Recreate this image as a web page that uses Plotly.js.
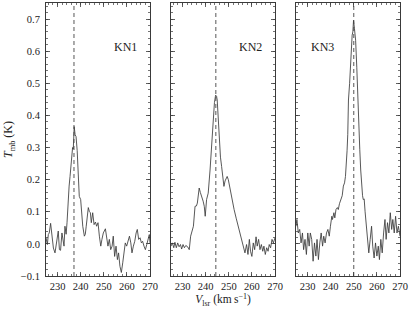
<!DOCTYPE html>
<html>
<head>
<meta charset="utf-8">
<script src="https://cdn.plot.ly/plotly-3.0.1.min.js"></script>
<style>html,body{margin:0;padding:0;background:#fff;}#chart{width:411px;height:310px;}</style>
</head>
<body>
<div id="chart"></div>
<script>
// Source names
const sourceNames = ["KN1", "KN2", "KN3"];
// Dashed-line central velocities (km/s)
const centerVelocities = [237.1, 244.4, 250.0];

// KN1 spectrum
const velKN1 = [225.0,225.6,226.0,226.4,227.0,227.6,228.2,228.9,229.6,230.3,230.8,231.3,231.9,232.4,232.8,233.2,233.7,234.1,234.6,235.0,235.4,235.8,236.1,236.5,236.8,237.2,237.6,238.0,238.5,239.0,239.4,240.0,240.5,240.9,241.6,242.0,242.4,242.9,243.3,243.8,244.2,244.6,245.2,245.8,246.4,246.9,247.5,248.1,248.7,249.2,249.8,250.7,251.3,251.8,252.4,253.0,253.6,254.1,254.7,255.3,255.9,256.4,257.0,257.6,258.2,258.8,259.3,259.9,260.5,261.1,261.7,262.2,262.8,263.4,264.0,264.5,265.1,265.7,266.3,266.8,267.4,268.0,268.6,269.2,269.7,270.0];
const tmbKN1 = [0.019,-0.002,0.029,0.034,0.064,0.014,-0.013,-0.028,0.014,0.040,-0.018,-0.020,0.034,0.010,-0.007,0.055,0.030,0.066,0.148,0.180,0.210,0.250,0.290,0.300,0.295,0.365,0.340,0.334,0.290,0.200,0.148,0.138,0.090,0.055,0.024,0.030,0.055,0.081,0.113,0.100,0.097,0.066,0.097,0.060,0.068,0.055,0.066,0.024,-0.007,0.014,0.034,0.047,0.024,-0.007,0.014,-0.018,-0.007,0.024,-0.039,-0.007,-0.049,-0.028,-0.070,-0.089,-0.059,-0.018,0.003,-0.007,0.014,0.024,0.003,-0.028,-0.007,0.008,0.034,0.045,0.014,0.019,0.003,0.008,-0.007,-0.018,-0.002,0.014,0.029,0.003];

// KN2 spectrum
const velKN2 = [225.0,225.6,226.2,226.7,227.3,227.9,228.5,229.1,229.6,230.2,230.8,231.4,232.2,232.9,233.5,234.1,234.7,235.4,236.0,236.4,237.2,237.7,238.3,238.9,239.4,239.8,240.4,241.1,241.9,242.6,243.3,243.8,244.3,244.7,245.0,245.4,245.9,246.4,246.9,247.4,247.9,248.4,248.8,249.3,249.8,250.3,250.8,251.5,252.3,253.2,254.1,254.9,255.6,256.2,257.0,257.7,258.3,258.9,259.4,260.0,260.6,261.2,261.8,262.3,262.9,263.5,264.1,264.7,265.2,265.8,266.4,267.0,267.5,268.1,268.7,269.3,270.0];
const tmbKN2 = [-0.007,0.003,-0.012,0.005,-0.012,0.003,-0.009,-0.002,-0.016,-0.002,-0.012,-0.005,-0.009,-0.018,0.024,0.045,0.055,0.117,0.118,0.127,0.174,0.160,0.148,0.133,0.117,0.086,0.138,0.158,0.230,0.303,0.407,0.440,0.463,0.460,0.448,0.400,0.303,0.270,0.241,0.210,0.179,0.196,0.205,0.210,0.200,0.180,0.158,0.130,0.107,0.080,0.055,0.035,0.013,0.003,-0.028,-0.002,-0.033,0.014,-0.023,-0.039,0.003,-0.018,0.022,-0.007,0.014,-0.018,-0.002,-0.023,-0.007,-0.033,-0.012,-0.023,-0.002,-0.012,0.014,0.003,0.019];

// KN3 spectrum
const velKN3 = [225.0,225.4,226.0,226.6,227.2,227.8,228.3,228.9,229.5,230.1,230.7,231.2,231.8,232.4,233.0,233.6,234.1,234.7,235.3,235.9,236.5,237.0,237.6,238.2,238.8,239.4,239.9,240.5,240.8,241.4,241.8,242.3,242.9,243.3,243.8,244.5,245.0,245.5,246.0,246.4,246.9,247.1,247.4,247.7,248.2,248.5,249.0,249.3,249.6,249.9,250.3,250.8,251.3,251.7,252.2,252.6,253.0,253.4,253.8,254.1,254.5,254.9,255.3,255.6,256.0,256.5,257.1,257.7,258.2,258.8,259.4,260.0,260.6,261.1,261.7,262.3,262.9,263.5,264.0,264.6,265.2,265.8,266.4,266.9,267.5,268.1,268.7,269.3,270.0];
const tmbKN3 = [0.055,0.076,0.034,0.045,0.003,0.034,-0.018,0.014,-0.033,0.034,-0.007,0.034,0.014,-0.054,0.003,-0.038,0.014,-0.049,0.003,0.034,-0.007,0.024,0.003,0.034,0.045,0.024,0.055,0.086,0.076,0.097,0.081,0.107,0.113,0.107,0.125,0.140,0.150,0.180,0.190,0.210,0.250,0.290,0.340,0.448,0.500,0.550,0.600,0.650,0.660,0.696,0.670,0.634,0.550,0.448,0.370,0.293,0.230,0.180,0.150,0.138,0.140,0.100,0.060,0.035,-0.007,-0.028,0.014,0.055,-0.007,-0.044,0.003,-0.038,-0.007,-0.049,0.014,-0.028,0.034,0.076,0.014,0.066,0.034,0.097,0.045,0.076,0.034,0.086,0.034,0.055,0.024];

// Axis ticks
const xTickVals = [230, 240, 250, 260, 270];
const yTickVals = [-0.1, 0.0, 0.1, 0.2, 0.3, 0.4, 0.5, 0.6, 0.7];
const yTickText = ["\u22120.1", "0.0", "0.1", "0.2", "0.3", "0.4", "0.5", "0.6", "0.7"];

const vels = [velKN1, velKN2, velKN3];
const tmbs = [tmbKN1, tmbKN2, tmbKN3];

const FONT = "'Liberation Serif', 'DejaVu Serif', serif";
const INK = "#3a3a3a";

const traces = sourceNames.map((n, i) => ({
  x: vels[i], y: tmbs[i],
  xaxis: i === 0 ? "x" : "x" + (i + 1),
  yaxis: i === 0 ? "y" : "y" + (i + 1),
  type: "scatter", mode: "lines",
  line: {color: "#3a3a3a", width: 0.85, shape: "linear"},
  hoverinfo: "skip", showlegend: false, name: n
}));

const domains = [[0, 0.2938], [0.3531, 0.6469], [0.7062, 1]];

function xAxis(i) {
  const a = {
    domain: domains[i], range: [225, 270], anchor: i === 0 ? "y" : "y" + (i + 1),
    tickmode: "array", tickvals: xTickVals, ticktext: xTickVals.map(String),
    ticks: "inside", ticklen: 4, tickwidth: 0.8, tickcolor: INK,
    minor: {dtick: 2, tick0: 230, ticks: "inside", ticklen: 2, tickwidth: 0.7, tickcolor: INK, showgrid: false},
    showline: true, linecolor: INK, linewidth: 1, mirror: "ticks",
    showgrid: false, zeroline: false,
    tickfont: {family: FONT, size: 10.5, color: "#222"}
  };
  if (i === 1) {
    a.title = {text: "<i>V</i><sub>lsr</sub> (km\u2009s<sup>\u22121</sup>)", font: {family: FONT, size: 11.5, color: "#222"}, standoff: 3};
  }
  return a;
}
function yAxis(i) {
  return {
    domain: [0, 1], range: [-0.1, 0.75], anchor: i === 0 ? "x" : "x" + (i + 1),
    tickmode: "array", tickvals: yTickVals, ticktext: yTickText,
    showticklabels: i === 0, ticklabelstandoff: 3,
    ticks: "inside", ticklen: 4, tickwidth: 0.8, tickcolor: INK,
    minor: {dtick: 0.02, tick0: 0, ticks: "inside", ticklen: 2, tickwidth: 0.7, tickcolor: INK, showgrid: false},
    showline: true, linecolor: INK, linewidth: 1, mirror: "ticks",
    showgrid: false, zeroline: false,
    tickfont: {family: FONT, size: 10.5, color: "#222"},
    title: i === 0 ? {text: "<i>T</i><sub>mb</sub> (K)", font: {family: FONT, size: 12, color: "#222"}, standoff: 5} : undefined
  };
}

const layout = {
  width: 411, height: 310,
  margin: {l: 46, r: 11, t: 3, b: 34},
  paper_bgcolor: "#fff", plot_bgcolor: "#fff",
  font: {family: FONT, color: "#222"},
  showlegend: false,
  shapes: centerVelocities.map((v, i) => ({
    type: "line", xref: i === 0 ? "x" : "x" + (i + 1), yref: "paper",
    x0: v, x1: v, y0: 0, y1: 1,
    line: {color: "#444", width: 0.9, dash: "4px,3px"}
  })),
  annotations: sourceNames.map((n, i) => ({
    text: n, xref: i === 0 ? "x" : "x" + (i + 1), yref: i === 0 ? "y" : "y" + (i + 1),
    x: [259.5, 259.5, 236.5][i], y: 0.613, showarrow: false,
    font: {family: FONT, size: 12, color: "#222"}, xanchor: "center", yanchor: "middle"
  }))
};
sourceNames.forEach((n, i) => {
  layout[i === 0 ? "xaxis" : "xaxis" + (i + 1)] = xAxis(i);
  layout[i === 0 ? "yaxis" : "yaxis" + (i + 1)] = yAxis(i);
});

Plotly.newPlot("chart", traces, layout, {staticPlot: true, displayModeBar: false});
</script>
</body>
</html>
